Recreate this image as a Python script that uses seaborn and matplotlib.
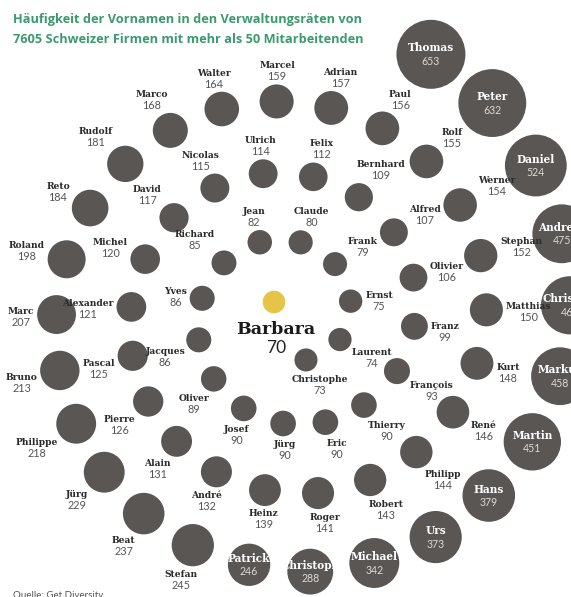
import numpy as np
import pandas as pd
import matplotlib
matplotlib.use("Agg")
import matplotlib.pyplot as plt
import seaborn as sns

# ---------------- data ----------------
names = ["Barbara", "Christophe", "Laurent", "Ernst", "Frank", "Claude", "Jean", "Richard", "Yves", "Jacques",
         "Oliver", "Josef", "Jürg", "Eric", "Thierry", "François", "Franz", "Olivier", "Alfred", "Bernhard",
         "Felix", "Ulrich", "Nicolas", "David", "Michel", "Alexander", "Pascal", "Pierre", "Alain", "André",
         "Heinz", "Roger", "Robert", "Philipp", "René", "Kurt", "Matthias", "Stephan", "Werner", "Rolf",
         "Paul", "Adrian", "Marcel", "Walter", "Marco", "Rudolf", "Reto", "Roland", "Marc", "Bruno",
         "Philippe", "Jürg", "Beat", "Stefan", "Patrick", "Christoph", "Michael", "Urs", "Hans", "Martin",
         "Markus", "Christian", "Andreas", "Daniel", "Peter", "Thomas"]
counts = [70, 73, 74, 75, 79, 80, 82, 85, 86, 86,
          89, 90, 90, 90, 90, 93, 99, 106, 107, 109,
          112, 114, 115, 117, 120, 121, 125, 126, 131, 132,
          139, 141, 143, 144, 146, 148, 150, 152, 154, 155,
          156, 157, 159, 164, 168, 181, 184, 198, 207, 213,
          218, 229, 237, 245, 246, 288, 342, 373, 379, 451,
          458, 464, 475, 524, 632, 653]
highlight = "Barbara"
title_lines = ["Häufigkeit der Vornamen in den Verwaltungsräten von",
               "7605 Schweizer Firmen mit mehr als 50 Mitarbeitenden"]
source = "Quelle: Get Diversity"

# ---------------- style ----------------
W, H, DPI = 571, 597, 100
GRAY = "#5a5654"
YELLOW = "#e6c447"
GREEN = "#3b9a6e"
AREA_K = 3.78                    # marker area (pt^2) per count
INSIDE_MIN = 246                 # labels drawn inside bubbles from this count on
SERIF = ["DejaVu Serif"]
SANS = ["Lato", "DejaVu Sans"]

sns.set_theme(style="white")
plt.rcParams["font.family"] = ["DejaVu Sans"]

n = len(names)
radii = [np.sqrt(AREA_K * v) / 2 * DPI / 72 for v in counts]   # pixel radii

# ---------------- spiral layout (position from rank order) ----------------
BX, BY = 274.0, 302.0        # focus bubble
CX, CY = 290.5, 316.0        # spiral centre
TH0 = np.radians(-70.6)
R0 = 46.6
PITCH = 65.4 / (2 * np.pi)

thetas, rs, rads, xs, ys = [], [], [], [BX], [BY]


def radius_at(t, rad):
    if not thetas or t - 2 * np.pi < thetas[0]:
        return R0 + PITCH * (t - TH0)
    t2 = t - 2 * np.pi
    rp = np.interp(t2, thetas, rs)
    radp = np.interp(t2, thetas, rads)
    clear = 43.0 - 0.17 * rad
    return rp + radp + rad + clear


def pos(t, r):
    return CX + r * np.cos(t), CY - r * np.sin(t)


for i in range(1, n):
    rad = radii[i]
    if i == 1:
        t = TH0
    else:
        t = thetas[-1]
        px, py = xs[-1], ys[-1]
        radsum = rads[-1] + rad
        if rs[-1] < 113:
            gap = 16.5
        else:
            gap = 21.35 - 0.33 * max(0.0, radsum - 33)
            gap -= 3.5 * max(0.0, np.cos(t - np.radians(200))) ** 3   # tighter on the lower left
        while True:
            t += 0.002
            x, y = pos(t, radius_at(t, rad))
            if np.hypot(x - px, y - py) >= radsum + gap:
                break
    r = radius_at(t, rad)
    x, y = pos(t, r)
    thetas.append(t); rs.append(r); rads.append(rad)
    xs.append(x); ys.append(y)

df = pd.DataFrame({"name": names, "count": counts, "x": xs, "y": ys,
                   "group": ["focus" if nm == highlight and i == 0 else "other" for i, nm in enumerate(names)]})

# ---------------- draw ----------------
fig = plt.figure(figsize=(W / DPI, H / DPI), dpi=DPI)
ax = fig.add_axes([0, 0, 1, 1])
sns.scatterplot(data=df, x="x", y="y", size="count",
                sizes=(AREA_K * min(counts), AREA_K * max(counts)),
                size_norm=(min(counts), max(counts)),
                hue="group", palette={"focus": YELLOW, "other": GRAY},
                linewidth=0, edgecolor="none", alpha=1, legend=False, ax=ax, zorder=2)
ax.set_xlim(0, W)
ax.set_ylim(H, 0)
ax.set_axis_off()

renderer = fig.canvas.get_renderer()

for i in range(n):
    x, y, v, nm, rad = xs[i], ys[i], counts[i], names[i], radii[i]
    if i == 0:
        ax.text(x + 2, y + 32, nm, family=SERIF, weight="bold", fontsize=12.5, color="#1a1a1a",
                ha="center", va="baseline", zorder=3)
        ax.text(x + 2, y + 51, str(v), family=SANS, fontsize=12.5, color="#222222",
                ha="center", va="baseline", zorder=3)
        continue
    if v >= INSIDE_MIN:
        ax.text(x, y - 6.5, nm, family=SERIF, weight="bold", fontsize=7.6, color="white",
                ha="center", va="center", zorder=3)
        ax.text(x, y + 7, str(v), family=SANS, fontsize=7.6, color="#dcdad8",
                ha="center", va="center", zorder=3)
        continue
    t1 = ax.text(0, 0, nm, family=SERIF, weight="bold", fontsize=7.3, color="#2b2b2b",
                 ha="center", va="center", zorder=3, fontstretch="condensed")
    t2 = ax.text(0, 0, str(v), family=SANS, fontsize=7.8, color="#555555",
                 ha="center", va="center", zorder=3)
    w = max(t1.get_window_extent(renderer).width, t2.get_window_extent(renderer).width)
    h = 21.0
    phi = np.arctan2(-(y - BY), x - BX)
    ux, uy = np.cos(phi), -np.sin(phi)
    d = 0.0
    while True:
        lx, ly = x + d * ux, y + d * uy
        ddx = max(abs(lx - x) - w / 2, 0)
        ddy = max(abs(ly - y) - h / 2, 0)
        if np.hypot(ddx, ddy) >= rad + 2.5:
            break
        d += 0.5
    t1.set_position((lx, ly - 5.3))
    t2.set_position((lx, ly + 5.7))

for k, line in enumerate(title_lines):
    ax.text(13, 22.7 + 20 * k, line, family=["Open Sans", "DejaVu Sans"], weight="bold",
            fontsize=9.2, color=GREEN, ha="left", va="baseline", zorder=4)
ax.text(13, 598.5, source, family=SANS, fontsize=7, color="#555555", ha="left", va="baseline", zorder=4)

fig.savefig("out.png", dpi=DPI)
